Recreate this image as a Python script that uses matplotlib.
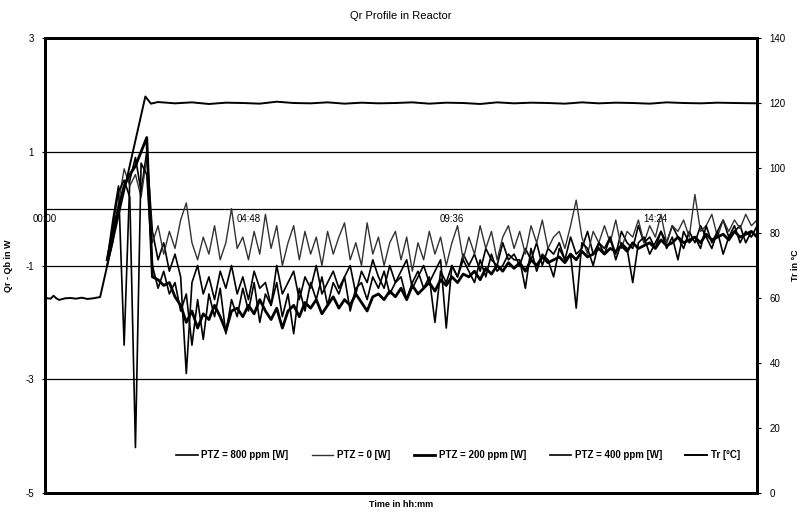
import numpy as np
import matplotlib
matplotlib.use("Agg")
from matplotlib import pyplot as plt

plt.rcParams['font.family'] = ['Liberation Sans', 'DejaVu Sans']

# time in minutes since start, Qr logger samples every 8 min from 01:28
t_qr = np.arange(88, 1009, 8)

qr_800 = [-0.9, -0.2, 0.4, -2.4, 0.5, 0.9, 0.3, 1.0,
          -0.4, -0.9, -0.6, -1.1, -0.8, -1.2, -2.9, -1.3,
          -1.0, -1.5, -1.2, -1.6, -1.1, -1.4, -1.0, -1.5,
          -1.2, -1.6, -1.1, -1.4, -1.3, -1.7, -1.0, -1.5,
          -1.3, -1.1, -1.6, -1.2, -1.4, -1.0, -1.5, -1.3,
          -1.1, -1.4, -1.2, -1.0, -1.5, -1.1, -1.3, -0.9,
          -1.2, -1.4, -1.0, -1.3, -1.1, -0.9, -1.4, -1.2,
          -1.0, -1.3, -1.1, -0.9, -2.1, -1.0, -1.2, -0.8,
          -1.0, -0.8, -1.1, -0.7, -0.9, -1.0, -0.6, -0.9,
          -0.8, -1.0, -0.7, -0.9, -0.6, -1.0, -0.7, -0.8,
          -0.6, -0.9, -0.5, -0.8, -0.7, -0.4, -0.8, -0.6,
          -0.7, -0.5, -0.8, -0.4, -0.6, -0.7, -0.3, -0.6,
          -0.5, -0.7, -0.4, -0.6, -0.3, -0.5, -0.7, -0.4,
          -0.6, -0.3, -0.5, -0.7, -0.4, -0.2, -0.5, -0.4,
          -0.3, -0.6, -0.4, -0.5]

qr_0 = [-1.0, -0.6, 0.1, 0.7, 0.4, 0.6, 0.2, 0.9,
        -0.6, -0.3, -0.8, -0.4, -0.7, -0.2, 0.1, -0.6,
        -0.9, -0.5, -0.8, -0.3, -0.9, -0.6, 0.0, -0.7,
        -0.5, -0.9, -0.4, -0.8, -0.1, -0.7, -0.3, -1.0,
        -0.6, -0.3, -0.9, -0.4, -0.8, -0.5, -1.0, -0.4,
        -0.8, -0.5, -0.25, -0.9, -0.6, -1.0, -0.25, -0.8,
        -0.5, -1.0, -0.6, -0.4, -0.9, -0.5, -1.1, -0.6,
        -0.9, -0.4, -0.8, -0.5, -1.0, -0.6, -0.3, -0.9,
        -0.5, -0.8, -0.3, -0.7, -0.4, -0.9, -0.5, -0.3,
        -0.7, -0.4, -0.8, -0.3, -0.6, -0.2, -0.7, -0.5,
        -0.4, -0.7, -0.3, 0.15, -0.5, -0.8, -0.4, -0.6,
        -0.3, -0.6, -0.2, -0.7, -0.4, -0.5, -0.2, -0.6,
        -0.3, -0.5, -0.1, -0.6, -0.3, -0.4, -0.2, -0.5,
        0.25, -0.4, -0.3, -0.1, -0.5, -0.2, -0.4, -0.2,
        -0.35, -0.1, -0.3, -0.2]

qr_200 = [-0.9, -0.4, 0.0, 0.4, 0.6, 0.75, 1.0, 1.25,
          -1.2, -1.25, -1.35, -1.3, -1.55, -1.7, -2.0, -1.8,
          -2.1, -1.85, -1.95, -1.7, -1.9, -2.15, -1.8, -1.75,
          -1.9, -1.7, -1.85, -1.6, -1.8, -1.95, -1.75, -2.1,
          -1.8, -1.7, -1.9, -1.65, -1.75, -1.6, -1.85, -1.7,
          -1.55, -1.75, -1.6, -1.7, -1.5, -1.65, -1.8, -1.55,
          -1.5, -1.6, -1.45, -1.55, -1.4, -1.6, -1.35, -1.5,
          -1.4, -1.3, -1.45, -1.25, -1.35, -1.2, -1.3, -1.15,
          -1.2, -1.1, -1.25, -1.05, -1.15, -1.0, -1.1, -0.95,
          -1.05, -0.95, -1.1, -0.9, -1.0, -0.85, -0.95, -0.9,
          -0.85, -0.95, -0.8, -0.9, -0.75, -0.85, -0.8, -0.7,
          -0.8, -0.7, -0.75, -0.65, -0.75, -0.6, -0.7, -0.65,
          -0.6, -0.7, -0.55, -0.65, -0.6, -0.5, -0.6, -0.55,
          -0.5, -0.6, -0.45, -0.55, -0.5, -0.45, -0.55, -0.4,
          -0.5, -0.45, -0.4, -0.5]

qr_400 = [-1.0, -0.3, 0.3, 0.5, 0.2, -4.2, 0.8, 0.6,
          -1.0, -1.4, -1.1, -1.5, -1.3, -1.8, -1.5, -2.4,
          -1.6, -2.3, -1.5, -1.9, -1.4, -2.2, -1.6, -1.9,
          -1.4, -1.8, -1.3, -2.0, -1.5, -1.7, -1.3, -1.9,
          -1.5, -2.2, -1.4, -1.8, -1.3, -1.6, -1.2, -1.7,
          -1.3, -1.5, -1.2, -1.8, -1.4, -1.3, -1.6, -1.2,
          -1.4, -1.1, -1.5, -1.3, -1.2, -1.6, -1.3, -1.1,
          -1.4, -1.2, -2.0, -1.1, -1.3, -1.0, -1.2, -0.9,
          -1.1, -1.3, -0.9, -1.2, -0.8, -1.1, -1.0, -0.8,
          -0.9, -0.9, -1.4, -0.7, -1.1, -0.8, -0.9, -1.2,
          -0.7, -0.9, -0.8, -1.75, -0.6, -0.7, -1.0, -0.6,
          -0.8, -0.5, -0.9, -0.6, -0.7, -1.3, -0.6, -0.5,
          -0.8, -0.6, -0.4, -0.7, -0.5, -0.9, -0.4, -0.6,
          -0.5, -0.7, -0.3, -0.6, -0.4, -0.8, -0.5, -0.3,
          -0.6, -0.4, -0.5, -0.3]

# reactor temperature
t_tr = [0, 8, 12, 16, 20, 28, 36, 44, 52, 60, 68, 78, 142, 150,
        160, 184, 208, 232, 256, 280, 304, 328, 352, 376, 400, 424,
        448, 472, 496, 520, 544, 568, 592, 616, 640, 664, 688, 712,
        736, 760, 784, 808, 832, 856, 880, 904, 928, 952, 976, 1008]
tr = [60.0, 59.8, 60.7, 59.9, 59.4, 59.9, 60.0, 59.8, 60.1, 59.7, 59.9, 60.3, 122.0, 119.8,
      120.3, 119.9, 120.2, 119.7, 120.1, 120.0, 119.8, 120.4, 120.0, 119.9, 120.2, 119.8,
      120.1, 119.9, 120.0, 120.2, 119.8, 120.1, 120.0, 119.7, 120.2, 119.9, 120.1, 120.0,
      119.8, 120.2, 119.9, 120.1, 120.0, 119.8, 120.2, 120.0, 119.9, 120.1, 120.0, 119.9]

x_ticks = [0, 288, 576, 864]
x_labels = ['00:00', '04:48', '09:36', '14:24']
qr_ticks = [-5, -3, -1, 1, 3]
tr_ticks = [0, 20, 40, 60, 80, 100, 120, 140]

fig = plt.figure(figsize=(8.07, 5.15), dpi=100)
ax = fig.add_axes([0.0558, 0.0427, 0.8823, 0.8835])
ax2 = ax.twinx()

l1, = ax.plot(t_qr, qr_800, color='black', lw=1.2, label='PTZ = 800 ppm [W]')
l2, = ax.plot(t_qr, qr_0, color='#333333', lw=1.0, label='PTZ = 0 [W]')
l3, = ax.plot(t_qr, qr_200, color='black', lw=2.0, label='PTZ = 200 ppm [W]')
l4, = ax.plot(t_qr, qr_400, color='black', lw=1.2, label='PTZ = 400 ppm [W]')
l5, = ax2.plot(t_tr, tr, color='black', lw=1.4, label='Tr [°C]')

ax.set_xlim(0, 1008)
ax.set_ylim(-5, 3)
ax2.set_ylim(0, 140)

ax.set_yticks(qr_ticks)
ax.set_yticklabels([str(v) for v in qr_ticks], fontsize=7)
ax2.set_yticks(tr_ticks)
ax2.set_yticklabels([str(v) for v in tr_ticks], fontsize=7)
ax.tick_params(axis='y', length=2, pad=6)
ax2.tick_params(axis='y', length=3, pad=6)
ax.set_xticks([])

# horizontal gridlines and the time axis crossing at 0
ax.yaxis.grid(True, color='black', lw=0.9)
ax.axhline(0, color='black', lw=0.9, zorder=1)
ax.set_axisbelow(True)
for t, lab in zip(x_ticks, x_labels):
    ax.annotate(lab, (t, 0), xytext=(0, -4), textcoords='offset points',
                ha='center', va='top', fontsize=7, zorder=1)

for a in (ax, ax2):
    for s in a.spines.values():
        s.set_linewidth(2)

ax.set_title('Qr Profile in Reactor', fontsize=8, pad=14)
ax.set_xlabel('Time in hh:mm', fontsize=6.5, fontweight='bold', labelpad=5)
ax.set_ylabel('Qr - Qb in W', fontsize=6.5, fontweight='bold', labelpad=9)
ax2.set_ylabel('Tr in °C', fontsize=6.5, fontweight='bold', labelpad=4)

ax2.legend(handles=[l1, l2, l3, l4, l5], loc='center', bbox_to_anchor=(0.58, 0.083),
           ncol=5, frameon=False, prop={'size': 7, 'weight': 'bold'},
           handlelength=2.2, handletextpad=0.4, columnspacing=2.4)

fig.savefig('out.png', dpi=100, facecolor='white')
